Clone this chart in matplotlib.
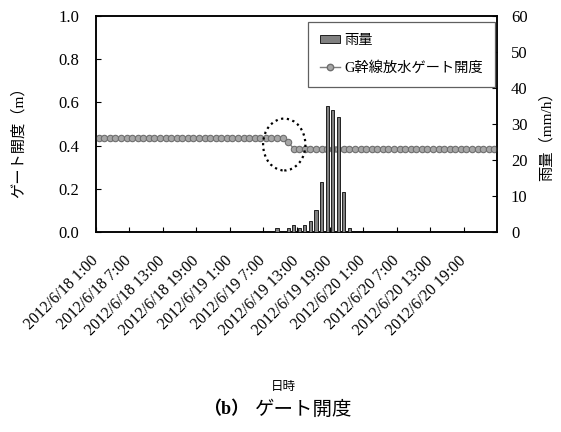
import matplotlib
matplotlib.use("Agg")
import matplotlib.pyplot as plt
import matplotlib.transforms as mtransforms
from matplotlib.patches import Ellipse
from matplotlib.lines import Line2D
from matplotlib.patches import Patch
import numpy as np

plt.rcParams['font.family'] = ['Liberation Serif', 'Noto Sans CJK JP']

# ---- data (hourly, 2012/6/18 1:00 .. 2012/6/21 0:00) ----
tick_labels = ["2012/6/18 1:00", "2012/6/18 7:00", "2012/6/18 13:00", "2012/6/18 19:00",
               "2012/6/19 1:00", "2012/6/19 7:00", "2012/6/19 13:00", "2012/6/19 19:00",
               "2012/6/20 1:00", "2012/6/20 7:00", "2012/6/20 13:00", "2012/6/20 19:00"]

gate_open = [0.437, 0.437, 0.437, 0.437, 0.437, 0.437, 0.437, 0.437, 0.437, 0.437,
             0.437, 0.437, 0.437, 0.437, 0.437, 0.437, 0.437, 0.437, 0.437, 0.437,
             0.437, 0.437, 0.437, 0.437, 0.437, 0.437, 0.437, 0.437, 0.437, 0.437,
             0.437, 0.437, 0.437, 0.437, 0.417, 0.385, 0.385, 0.385, 0.385, 0.385,
             0.385, 0.385, 0.385, 0.385, 0.385, 0.385, 0.385, 0.385, 0.385, 0.385,
             0.385, 0.385, 0.385, 0.385, 0.385, 0.385, 0.385, 0.385, 0.385, 0.385,
             0.385, 0.385, 0.385, 0.385, 0.385, 0.385, 0.385, 0.385, 0.385, 0.385,
             0.385, 0.385]

rainfall = [0, 0, 0, 0, 0, 0, 0, 0, 0, 0,
            0, 0, 0, 0, 0, 0, 0, 0, 0, 0,
            0, 0, 0, 0, 0, 0, 0, 0, 0, 0,
            0, 0, 1, 0, 1, 2, 1, 2, 3, 6,
            14, 35, 34, 32, 11, 1, 0, 0, 0, 0,
            0, 0, 0, 0, 0, 0, 0, 0, 0, 0,
            0, 0, 0, 0, 0, 0, 0, 0, 0, 0,
            0, 0]

n = len(gate_open)
xpos = np.arange(n) + 0.5
tick_pos = np.arange(len(tick_labels)) * 6

fig = plt.figure(figsize=(5.61, 4.32), dpi=100)
ax = fig.add_axes([96/561, 1-232/432, (497-96)/561, (232-16)/432])
ax2 = ax.twinx()

# gate opening line
ax.plot(xpos, gate_open, color='#7f7f7f', lw=1.0, marker='o', markersize=4.6,
        markerfacecolor='#a6a6a6', markeredgecolor='#6e6e6e', markeredgewidth=0.8, zorder=3)
ax.add_patch(Ellipse((33.8, 0.405), 7.6, 0.24, fill=False, ec='black', lw=1.6,
                     ls=(0, (1, 1.6)), zorder=4))

# rainfall bars
ax2.bar(xpos, rainfall, width=0.55, color='#808080', edgecolor='#202020', lw=0.7, zorder=3)

ax.set_xlim(0, n)
ax.set_ylim(0, 1.0)
ax2.set_ylim(0, 60)
ax.set_yticks(np.arange(0, 1.01, 0.2))
ax.set_yticklabels([f"{v:.1f}" for v in np.arange(0, 1.01, 0.2)])
ax2.set_yticks(np.arange(0, 61, 10))

ax.set_xticks(tick_pos)
ax.set_xticklabels(tick_labels, rotation=45, ha='right', va='center', rotation_mode='anchor',
                   fontsize=11.5)
offset = mtransforms.ScaledTranslation(-7/100, 0, fig.dpi_scale_trans)
for lab in ax.get_xticklabels():
    lab.set_transform(lab.get_transform() + offset)

for a in (ax, ax2):
    for s in a.spines.values():
        s.set_linewidth(1.1)
        s.set_color('black')
ax.tick_params(axis='both', direction='in', length=3.6, width=0.8)
ax.tick_params(axis='y', pad=12, labelsize=12)
ax.tick_params(axis='x', pad=19)
ax2.tick_params(axis='y', direction='in', length=3.6, width=0.8, labelsize=12, pad=10)

ax.set_ylabel('ゲート開度（m）', fontsize=11)
ax.yaxis.set_label_coords(-0.175, 0.43)
ax2.set_ylabel('雨量（mm/h）', fontsize=11, rotation=90)
ax2.yaxis.set_label_coords(1.105, 0.46)

handles = [Patch(facecolor='#808080', edgecolor='#202020', lw=0.7),
           Line2D([], [], color='#7f7f7f', lw=1.0, marker='o', markersize=4.6,
                  markerfacecolor='#a6a6a6', markeredgecolor='#6e6e6e')]
leg = ax2.legend(handles, ['雨量', 'G幹線放水ゲート開度'], loc='upper right',
                 bbox_to_anchor=(495/561, 1-22/432), bbox_transform=fig.transFigure,
                 borderaxespad=0, fancybox=False, framealpha=1, edgecolor='#606060',
                 fontsize=10.3, labelspacing=1.0, handlelength=1.4, handleheight=0.5,
                 handletextpad=0.3, borderpad=0.85)
leg.get_frame().set_linewidth(0.9)

fig.text(283/561, 1-387/432, '日時', ha='center', va='center', fontsize=9)
fig.text(226/561, 1-410/432, '（b）', ha='center', va='center', fontsize=13, fontweight='bold')
fig.text(304/561, 1-410/432, 'ゲート開度', ha='center', va='center', fontsize=14)

fig.savefig('out.png', dpi=100)
